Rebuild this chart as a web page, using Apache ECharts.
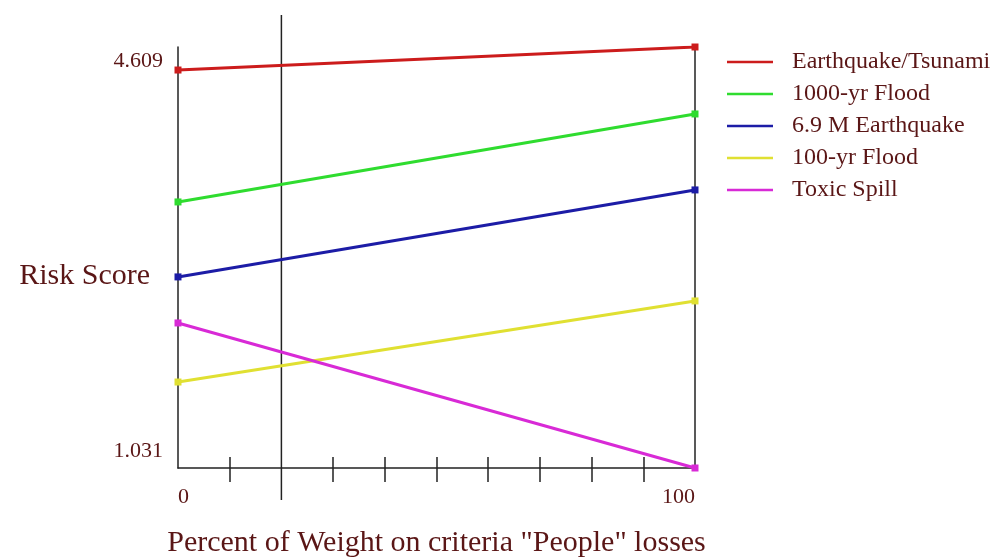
<!DOCTYPE html>
<html>
<head>
<meta charset="utf-8">
<script src="https://cdn.jsdelivr.net/npm/echarts@6/dist/echarts.min.js"></script>
<style>html,body{margin:0;padding:0;background:#fff}#c{width:1003px;height:559px}</style>
</head>
<body>
<div id="c"></div>
<script>
var seriesNames = ['Earthquake/Tsunami', '1000-yr Flood', '6.9 M Earthquake', '100-yr Flood', 'Toxic Spill'];
var xPoints = [0, 100];
var tsunami = [4.609, 4.816];
var flood1000 = [3.423, 4.214];
var quake69 = [2.749, 3.531];
var flood100 = [1.804, 2.533];
var toxic = [2.335, 1.031];
var yTickValues = [1.031, 4.609];
var xTickLabels = [0, 100];
var xMinorTicks = [10, 30, 40, 50, 60, 70, 80, 90];
var refX = 20;

var colors = ['#cc1c1c', '#2fdc2f', '#1c1ca6', '#e0e032', '#d82ad6'];
var values = [tsunami, flood1000, quake69, flood100, toxic];
var textColor = '#5a1616';
var font = 'Liberation Serif';

var chart = echarts.init(document.getElementById('c'), null, {renderer: 'canvas'});

var series = [{
  type: 'line', xAxisIndex: 2, yAxisIndex: 2, symbol: 'none', silent: true, z: 1,
  data: [[refX, 0], [refX, 1]],
  lineStyle: {color: '#222', width: 1.5}
}];
values.forEach(function (v, i) {
  series.push({
    name: seriesNames[i], type: 'line', z: 5,
    data: xPoints.map(function (x, j) { return [x, v[j]]; }),
    symbol: 'rect', symbolSize: 7,
    color: colors[i],
    lineStyle: {width: 3, color: colors[i]},
    itemStyle: {color: colors[i]}
  });
});

var yMin = Math.min.apply(null, [].concat.apply([], values));
var yMax = Math.max.apply(null, [].concat.apply([], values));

chart.setOption({
  animation: false,
  backgroundColor: '#fff',
  textStyle: {fontFamily: font},
  grid: [
    {left: 178, right: 308, top: 47, bottom: 91, containLabel: false, outerBoundsMode: 'none'},
    {left: 178, right: 308, top: 15, bottom: 59, containLabel: false, outerBoundsMode: 'none'}
  ],
  legend: {
    orient: 'vertical', left: 722, top: 45,
    icon: 'rect', itemWidth: 46, itemHeight: 2.5, itemGap: 8,
    data: seriesNames,
    textStyle: {color: textColor, fontSize: 24, fontFamily: font, lineHeight: 24, padding: [0, 0, 0, 14]}
  },
  xAxis: [{
    type: 'value', gridIndex: 0, min: 0, max: 100, interval: 10,
    splitLine: {show: false},
    axisLine: {show: true, lineStyle: {color: '#222', width: 1.5}},
    axisTick: {show: true, customValues: xMinorTicks, length: 14, inside: false, lineStyle: {color: '#222', width: 1.5}},
    axisLabel: {customValues: xTickLabels, color: textColor, fontSize: 22, fontFamily: font, margin: 18,
      alignMinLabel: 'left', alignMaxLabel: 'right'},
    name: 'Percent of Weight on criteria "People" losses',
    nameLocation: 'middle', nameGap: 60,
    nameTextStyle: {color: textColor, fontSize: 30, fontFamily: font}
  }, {
    type: 'value', gridIndex: 0, min: 0, max: 100, interval: 10, position: 'bottom',
    splitLine: {show: false},
    axisLine: {show: false},
    axisTick: {show: true, customValues: xMinorTicks, length: 11, inside: true, lineStyle: {color: '#222', width: 1.5}},
    axisLabel: {show: false}
  }, {
    type: 'value', gridIndex: 1, min: 0, max: 100, show: false
  }],
  yAxis: [{
    type: 'value', gridIndex: 0, min: yMin, max: yMax, position: 'left',
    splitLine: {show: false},
    axisLine: {show: true, lineStyle: {color: '#222', width: 1.5}},
    axisTick: {show: false},
    axisLabel: {
      customValues: yTickValues, margin: 15,
      formatter: function (v) {
        return v === yTickValues[0] ? '{lo|' + v.toFixed(3) + '}' : '{hi|' + v.toFixed(3) + '}';
      },
      rich: {
        lo: {color: textColor, fontSize: 22, fontFamily: font, padding: [0, 0, 34, 0]},
        hi: {color: textColor, fontSize: 22, fontFamily: font, padding: [0, 0, 18, 0]}
      }
    }
  }, {
    type: 'value', gridIndex: 0, min: yMin, max: yMax, position: 'right',
    splitLine: {show: false},
    axisLine: {show: true, onZero: false, lineStyle: {color: '#222', width: 1.5}},
    axisTick: {show: false},
    axisLabel: {show: false}
  }, {
    type: 'value', gridIndex: 1, min: 0, max: 1, show: false
  }],
  graphic: [{
    type: 'text', right: 1003 - 150, top: 261,
    style: {text: 'Risk Score', fill: textColor, fontSize: 30, fontFamily: font}
  }],
  series: series
});
</script>
</body>
</html>
